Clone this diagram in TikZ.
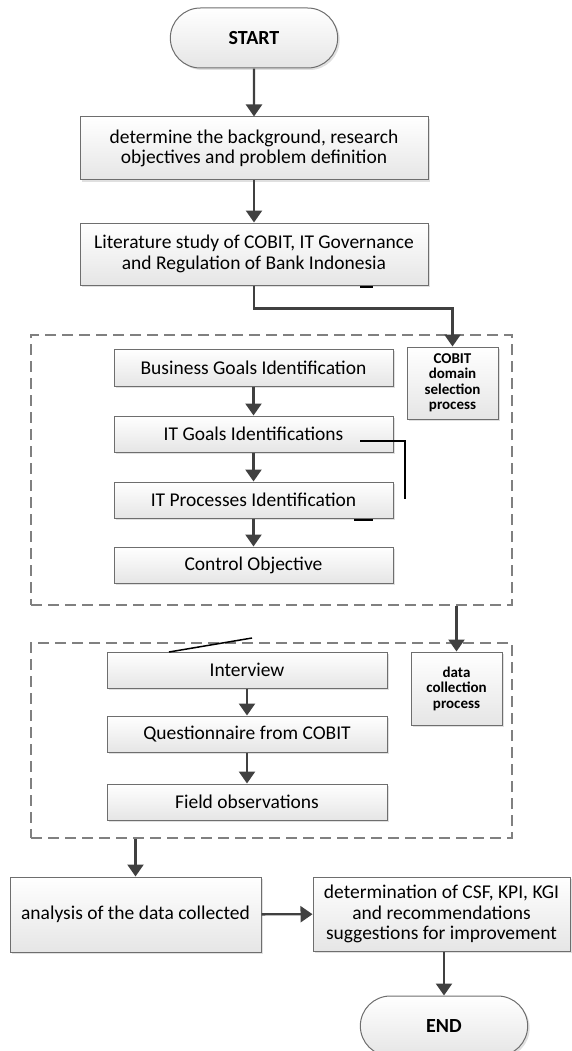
\documentclass[tikz,border=0pt]{standalone}
\usepackage{fontspec}
\setmainfont{Carlito}
\usetikzlibrary{arrows.meta, positioning, shapes.misc, shadows, calc}
\definecolor{linegray}{RGB}{64,64,64}
\definecolor{bordergray}{RGB}{110,110,110}
\definecolor{dashgray}{RGB}{128,128,128}

\begin{document}
\begin{tikzpicture}[
            x=1pt, y=-1pt,
            box/.style={rectangle, draw=bordergray, line width=1pt, top color=white, bottom color=black!10, drop shadow={shadow xshift=2pt, shadow yshift=-2pt, fill=black, opacity=0.12}, align=center, inner sep=1pt, font=\fontsize{19.5}{20.5}\selectfont},
            term/.style={rounded rectangle, draw=bordergray, line width=1pt, top color=white, bottom color=black!10, drop shadow={shadow xshift=2pt, shadow yshift=-2pt, fill=black, opacity=0.12}, minimum width=174pt, minimum height=60pt, font=\fontsize{20}{22}\selectfont\bfseries},
            tag/.style={box, minimum width=91pt, font=\fontsize{15}{15.5}\selectfont\bfseries},
            group/.style={rectangle, draw=dashgray, line width=1.4pt, dash pattern=on 11pt off 6pt, minimum width=481pt},
            arrow/.style={-{Triangle[length=12pt, width=16pt]}, draw=linegray, line width=2.4pt},
            stray/.style={draw=black, line width=1.5pt}
        ]
            \useasboundingbox (0,0) rectangle (571,1051);

            \node[term] (start) at (254,38) {START};
            \node[box, minimum width=348pt, minimum height=63pt] (backgr) at (254,148.5) {determine the background, research\\objectives and problem definition};
            \node[box, minimum width=348pt, minimum height=62pt] (litstudy) at (254,254) {Literature study of COBIT, IT Governance\\and Regulation of Bank Indonesia};

            % COBIT domain selection
            \node[group, minimum height=270pt] (cobitGrp) at (271.5,470) {};
            \node[box, minimum width=279pt, minimum height=37pt] (bizGoals) at (253.5,367.5) {Business Goals Identification};
            \node[box, minimum width=279pt, minimum height=36pt] (itGoals) at (253.5,434) {IT Goals Identifications};
            \node[box, minimum width=279pt, minimum height=36pt] (itProc) at (253.5,500) {IT Processes Identification};
            \node[box, minimum width=279pt, minimum height=36pt] (ctrlObj) at (253.5,565) {Control Objective};
            \node[tag, minimum height=72pt] (cobitTag) at (452.5,383) {COBIT\\domain\\selection\\process};

            % data collection
            \node[group, minimum height=195pt] (dataGrp) at (271.5,740.5) {};
            \node[box, minimum width=280pt, minimum height=36pt] (interview) at (247,670) {Interview};
            \node[box, minimum width=280pt, minimum height=36pt] (quest) at (247,734) {Questionnaire from COBIT};
            \node[box, minimum width=280pt, minimum height=36pt] (fieldObs) at (247,802) {Field observations};
            \node[tag, minimum height=73pt] (dataTag) at (456.5,688.5) {data\\collection\\process};

            \node[box, minimum width=251pt, minimum height=75pt] (analysis) at (135.5,914.5) {analysis of the data collected};
            \node[box, minimum width=257pt, minimum height=74pt] (determ) at (441.5,914) {determination of CSF, KPI, KGI\\and recommendations\\suggestions for improvement};
            \node[term] (end) at (444,1026) {END};

            \draw[arrow] (start) -- (backgr);
            \draw[arrow] (backgr) -- (litstudy);
            \draw[arrow] (litstudy.south) -- ++(0,23) -| (cobitTag.north);
            \draw[arrow] (bizGoals) -- (itGoals);
            \draw[arrow] (itGoals) -- (itProc);
            \draw[arrow] (itProc) -- (ctrlObj);
            \draw[arrow] (cobitGrp.south -| dataTag.north) -- (dataTag.north);
            \draw[arrow] (interview) -- (quest);
            \draw[arrow] (quest) -- (fieldObs);
            \draw[arrow] (dataGrp.south -| analysis.north) -- (analysis.north);
            \draw[arrow] (analysis) -- (determ);
            \draw[arrow] (end.north |- determ.south) -- (end.north);

            % loose marks
            \draw[stray] (360,287) -- (373,287);
            \draw[stray] (360,441) -- (405,441) -- (405,499);
            \draw[stray] (354,520) -- (373,520);
            \draw[stray] (169,652) -- (252,638);
        \end{tikzpicture}
\end{document}
